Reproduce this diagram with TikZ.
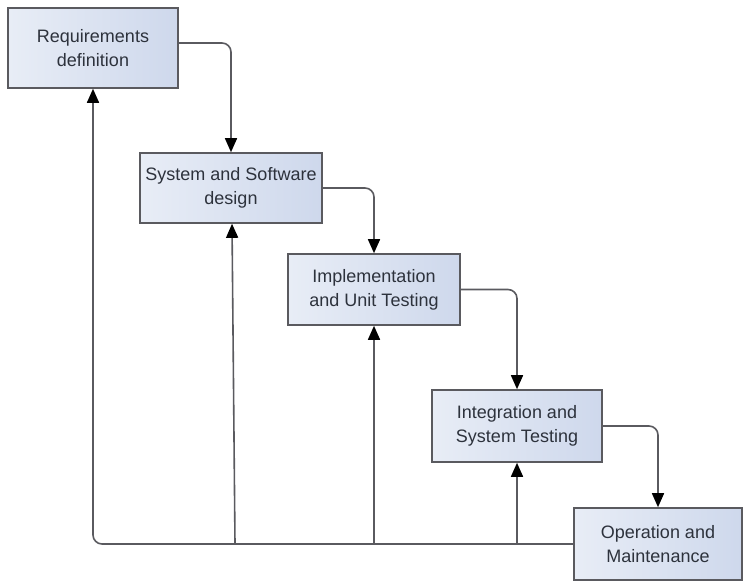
\documentclass[tikz,border=0pt]{standalone}
\usepackage{fontspec}
\setmainfont{Liberation Sans}
\usetikzlibrary{arrows.meta}
\definecolor{boxL}{RGB}{232,237,246}
\definecolor{boxR}{RGB}{206,216,236}
\definecolor{edge}{RGB}{90,90,95}
\definecolor{txt}{RGB}{45,50,60}
\begin{document}
\begin{tikzpicture}[x=1pt,y=-1pt,
  phase/.style={draw=edge, line width=1.6pt, left color=boxL, right color=boxR,
    align=center, text=txt, inner sep=0pt,
    font=\fontsize{18}{24}\selectfont},
  arr/.style={draw=edge, line width=1.6pt, rounded corners=9pt,
    -{Triangle[length=14pt,width=12pt,fill=black,color=black]}}]
\useasboundingbox (0,0) rectangle (743,580);
\node[phase, minimum width=170pt, minimum height=80pt] (b1) at (93,48) {Requirements\\definition};
\node[phase, minimum width=182pt, minimum height=70pt] (b2) at (231,188) {System and Software\\design};
\node[phase, minimum width=172pt, minimum height=71pt] (b3) at (374,289.5) {Implementation\\and Unit Testing};
\node[phase, minimum width=170pt, minimum height=72pt] (b4) at (517,426) {Integration and\\System Testing};
\node[phase, minimum width=168pt, minimum height=72pt] (b5) at (658,544) {Operation and\\Maintenance};
% forward
\draw[arr] ([yshift=5pt]b1.east) -| (b2.north);
\draw[arr] (b2.east) -| (b3.north);
\draw[arr] (b3.east) -| (b4.north);
\draw[arr] (b4.east) -| (b5.north);
% feedback
\draw[arr] (b5.west) -| (b1.south);
\draw[arr] ([xshift=4pt]b2.south |- b5.west) -- ([xshift=1pt]b2.south);
\draw[arr] (b3.south |- b5.west) -- (b3.south);
\draw[arr] (b4.south |- b5.west) -- (b4.south);
\end{tikzpicture}
\end{document}
